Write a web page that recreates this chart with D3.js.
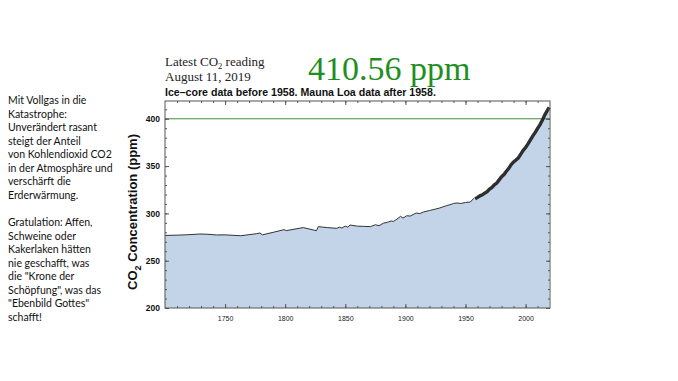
<!DOCTYPE html>
<html>
<head>
<meta charset="utf-8">
<script src="https://cdn.jsdelivr.net/npm/d3@7"></script>
<style>
  body { margin: 0; background: #fff; }
  svg { display: block; }
</style>
</head>
<body>
<svg id="chart" width="678" height="381"></svg>
<script>
// ice-core record (before 1958)
var iceYears = [1700, 1710, 1720, 1729, 1735, 1743, 1750, 1763, 1770, 1776, 1779, 1781, 1790, 1799, 1801,
  1815, 1826, 1827.5, 1835, 1843, 1845, 1847, 1850, 1852, 1854, 1860, 1865, 1871, 1875, 1878, 1882,
  1885, 1888, 1890, 1893, 1896, 1898, 1901, 1904, 1909, 1912, 1915, 1920, 1923, 1928, 1934, 1938,
  1940, 1943, 1946, 1950, 1954, 1957]
var iceValues = [276.7, 277, 277.5, 278.2, 278, 277.2, 277.3, 276.4, 277.5, 278.5, 279.3, 277.3, 280, 282.8, 281.8,
  285, 281.7, 286, 285, 284.2, 285.5, 284.5, 286.5, 285.5, 287.7, 286.5, 286.3, 286, 288, 287, 289.8,
  290.5, 292, 291.5, 294, 296.9, 295, 297.5, 297.2, 300.4, 299.8, 301.5, 303, 303.9, 305.5, 308.1, 309.5,
  310.5, 311, 310.5, 311.5, 312, 316]

// Mauna Loa record (after 1958)
var mloYears = [1958, 1960, 1962, 1964, 1966, 1968, 1970, 1972, 1974, 1976, 1978, 1980, 1982, 1984, 1986,
  1988, 1990, 1992, 1994, 1996, 1998, 2000, 2002, 2004, 2006, 2008, 2010, 2012, 2014, 2016, 2018, 2019.6]
var mloValues = [315.3, 316.9, 318.6, 319.6, 321.4, 323.0, 325.7, 327.5, 330.2, 332.1, 335.4, 338.8, 341.1, 344.6, 347.6,
  351.6, 354.4, 356.5, 358.8, 362.7, 366.7, 369.6, 373.5, 377.7, 381.9, 385.6, 389.9, 393.9, 398.6, 404.2, 408.7, 412]

var xTicks = [1750, 1800, 1850, 1900, 1950, 2000]
var yTicks = [200, 250, 300, 350, 400]
var refLine = 400

var noteLines = [
  'Mit Vollgas in die', 'Katastrophe:', 'Unverändert rasant', 'steigt der Anteil',
  'von Kohlendioxid CO2', 'in der Atmosphäre und', 'verschärft die', 'Erderwärmung.', '',
  'Gratulation: Affen,', 'Schweine oder', 'Kakerlaken hätten', 'nie geschafft, was',
  'die "Krone der', 'Schöpfung",  was das', '"Ebenbild Gottes"', 'schafft!'
]

var svg = d3.select('#chart')
var pLeft = 165, pRight = 550, pTop = 101, pBottom = 308

var x = d3.scaleLinear().domain([1700, 2020.3]).range([pLeft, pRight])
var y = d3.scaleLinear().domain([200, 418.8]).range([pBottom, pTop])

var ice = iceYears.map(function (d, i) { return [d, iceValues[i]] })
var mlo = mloYears.map(function (d, i) { return [d, mloValues[i]] })
var all = ice.concat(mlo)

// filled area under the whole record
svg.append('path')
  .datum(all)
  .attr('fill', '#c3d4e8')
  .attr('d', d3.area().x(d => x(d[0])).y0(y(200)).y1(d => y(d[1])))

svg.append('line')
  .attr('x1', pLeft).attr('x2', pRight)
  .attr('y1', y(refLine)).attr('y2', y(refLine))
  .attr('stroke', '#3c8f3c').attr('stroke-width', 1)

var line = d3.line().x(d => x(d[0])).y(d => y(d[1]))
svg.append('path').datum(ice)
  .attr('fill', 'none').attr('stroke', '#333').attr('stroke-width', 1)
  .attr('d', line)
svg.append('path').datum(mlo)
  .attr('fill', 'none').attr('stroke', '#1a1a1a').attr('stroke-width', 3.4)
  .attr('stroke-opacity', 0.9)
  .attr('d', line)

// frame and inward ticks on all four sides
svg.append('rect')
  .attr('x', pLeft).attr('y', pTop).attr('width', pRight - pLeft).attr('height', pBottom - pTop)
  .attr('fill', 'none').attr('stroke', '#555').attr('stroke-width', 1)

var minorX = d3.range(1710, 2020, 10)
var minorY = d3.range(210, 419, 10)
var tickCol = '#555'

svg.append('g').attr('transform', 'translate(0,' + pBottom + ')')
  .call(d3.axisBottom(x).tickValues(minorX).tickSize(-2).tickFormat(''))
svg.append('g').attr('transform', 'translate(0,' + pBottom + ')')
  .call(d3.axisBottom(x).tickValues(xTicks).tickSize(-4).tickPadding(8).tickFormat(d3.format('d')))
  .call(g => g.selectAll('text').attr('font-size', 7).attr('font-family', 'Liberation Sans, Arial').attr('fill', '#222'))
svg.append('g').attr('transform', 'translate(0,' + pTop + ')')
  .call(d3.axisTop(x).tickValues(minorX).tickSize(-2).tickFormat(''))
svg.append('g').attr('transform', 'translate(0,' + pTop + ')')
  .call(d3.axisTop(x).tickValues(xTicks).tickSize(-4).tickFormat(''))

svg.append('g').attr('transform', 'translate(' + pLeft + ',0)')
  .call(d3.axisLeft(y).tickValues(minorY).tickSize(-2).tickFormat(''))
svg.append('g').attr('transform', 'translate(' + pLeft + ',0)')
  .call(d3.axisLeft(y).tickValues(yTicks).tickSize(-4).tickPadding(5).tickFormat(d3.format('d')))
  .call(g => g.selectAll('text').attr('font-size', 8.5).attr('font-weight', 'bold').attr('font-family', 'Liberation Sans, Arial').attr('fill', '#111'))
svg.append('g').attr('transform', 'translate(' + pRight + ',0)')
  .call(d3.axisRight(y).tickValues(minorY).tickSize(-2).tickFormat(''))
svg.append('g').attr('transform', 'translate(' + pRight + ',0)')
  .call(d3.axisRight(y).tickValues(yTicks).tickSize(-4).tickFormat(''))

svg.selectAll('.domain').remove()
svg.selectAll('.tick line').attr('stroke', tickCol)

// y axis title
var yt = svg.append('text')
  .attr('transform', 'translate(137,212) rotate(-90)')
  .attr('text-anchor', 'middle')
  .attr('font-family', 'Liberation Sans, Arial').attr('font-weight', 'bold').attr('font-size', 13)
  .attr('fill', '#111')
yt.append('tspan').text('CO')
yt.append('tspan').attr('font-size', 9).attr('dy', 4).text('2')
yt.append('tspan').attr('dy', -4).text(' Concentration (ppm)')

// headings
svg.append('text').attr('x', 165).attr('y', 95.5)
  .attr('font-family', 'Liberation Sans, Arial').attr('font-weight', 'bold').attr('font-size', 10.6)
  .attr('fill', '#111')
  .text('Ice\u2013core data before 1958. Mauna Loa data after 1958.')

var lt = svg.append('text').attr('x', 165).attr('y', 66)
  .attr('font-family', 'Liberation Serif, Times New Roman').attr('font-size', 13).attr('fill', '#222')
lt.append('tspan').text('Latest CO')
lt.append('tspan').attr('font-size', 8.5).attr('dy', 3).text('2')
lt.append('tspan').attr('dy', -3).text(' reading')

svg.append('text').attr('x', 165).attr('y', 81)
  .attr('font-family', 'Liberation Serif, Times New Roman').attr('font-size', 13).attr('fill', '#222')
  .text('August 11, 2019')

svg.append('text').attr('x', 308).attr('y', 80)
  .attr('font-family', 'Liberation Serif, Times New Roman').attr('font-size', 34).attr('fill', '#1f8f1f')
  .text('410.56 ppm')

// side note
svg.append('g').selectAll('text')
  .data(noteLines)
  .join('text')
  .attr('x', 8)
  .attr('y', (d, i) => 104 + i * 13.55)
  .attr('font-family', 'Lato, sans-serif').attr('font-size', 10.5).attr('fill', '#111')
  .text(d => d)
</script>
</body>
</html>
